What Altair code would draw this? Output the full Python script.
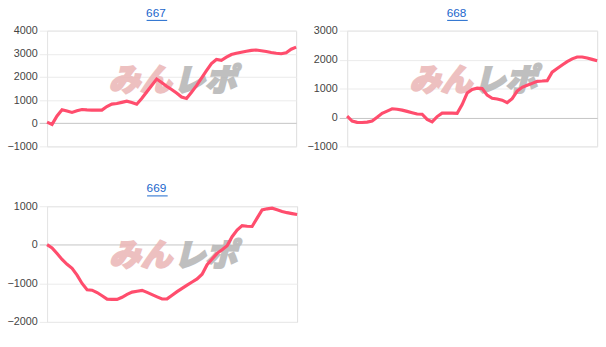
import altair as alt
import pandas as pd

names = ["667", "668", "669"]

vals_667 = [50, -50, 318, 586, 527, 467, 539, 595, 580, 570,
            570, 570, 723, 827, 855, 902, 953, 895, 822, 1067,
            1353, 1630, 1910, 1760, 1598, 1461, 1308, 1131, 1071, 1344,
            1626, 1950, 2272, 2580, 2757, 2721, 2853, 2970, 3021, 3071,
            3115, 3150, 3166, 3135, 3103, 3060, 3023, 3003, 3050, 3200,
            3290]

vals_668 = [45, -123, -170, -175, -159, -125, 5, 143, 221, 300,
            283, 254, 211, 165, 119, 111, -66, -152, 31, 151,
            155, 152, 142, 448, 843, 970, 1014, 999, 771, 665,
            640, 599, 510, 652, 912, 1044, 1112, 1180, 1250, 1259,
            1272, 1568, 1693, 1816, 1930, 2027, 2090, 2090, 2055, 2008,
            1962]

vals_669 = [5, -80, -227, -381, -507, -612, -787, -1003, -1167, -1177,
            -1238, -1322, -1408, -1417, -1417, -1362, -1287, -1227, -1204, -1181,
            -1235, -1293, -1351, -1406, -1402, -1307, -1215, -1129, -1047, -965,
            -884, -763, -517, -368, -222, -129, -25, 209, 381, 497,
            479, 475, 691, 904, 932, 949, 908, 865, 833, 808,
            785]

domains = [[-1000, 4000], [-1000, 3000], [-2000, 1000]]
ticks = [[-1000, 0, 1000, 2000, 3000, 4000],
         [-1000, 0, 1000, 2000, 3000],
         [-2000, -1000, 0, 1000]]
widths = [254, 255, 255]

LINE = "#ff4d6d"
GRID = "#ebebeb"
ZERO = "#c4c4c4"


def panel(name, vals, domain, tk, w, h=118):
    df = pd.DataFrame({"i": list(range(len(vals))), "v": vals})
    one = alt.Data(values=[{"a": 1}])
    wm1 = alt.Chart(one).mark_text(
        text="みん", font="Noto Sans CJK JP", fontSize=32, fontWeight=900,
        fontStyle="italic", color="#ebb6b6", stroke="#ebb6b6", strokeWidth=2,
        opacity=0.85, align="right", baseline="middle"
    ).encode(x=alt.value(w / 2), y=alt.value(51))
    wm2 = alt.Chart(one).mark_text(
        text="レポ", font="Noto Sans CJK JP", fontSize=32, fontWeight=900,
        fontStyle="italic", color="#b5b5b5", stroke="#b5b5b5", strokeWidth=2,
        opacity=0.85, align="left", baseline="middle"
    ).encode(x=alt.value(w / 2 + 2), y=alt.value(51))
    line = alt.Chart(df).mark_line(color=LINE, strokeWidth=3.2).encode(
        x=alt.X("i:Q", axis=None,
                scale=alt.Scale(domain=[0, len(vals) - 1], nice=False, zero=False)),
        y=alt.Y("v:Q", title=None,
                scale=alt.Scale(domain=domain, nice=False, zero=False),
                axis=alt.Axis(
                    values=tk, format="d", grid=True,
                    gridColor=alt.condition("datum.value === 0", alt.value(ZERO), alt.value(GRID)),
                    tickColor=alt.condition("datum.value === 0", alt.value(ZERO), alt.value(GRID)),
                    tickSize=8, labelPadding=2, domainColor="#e6e6e6",
                    labelFont="Liberation Sans", labelFontSize=11, labelColor="#444444",
                    minExtent=40, maxExtent=40)),
    )
    underline = alt.Chart(one).mark_rule(color="#1a66cc", strokeWidth=1).encode(
        x=alt.value(w / 2 - 26 + 0.5), x2=alt.value(w / 2 - 5 + 0.5), y=alt.value(-10.5)
    )
    return alt.layer(wm1, wm2, line, underline).properties(
        width=w, height=h,
        title=alt.TitleParams(name, fontSize=12, font="Liberation Sans",
                              fontWeight="normal", color="#1a66cc",
                              anchor="middle", dx=-16, offset=0),
    )


p1 = panel(names[0], vals_667, domains[0], ticks[0], widths[0])
p2 = panel(names[1], vals_668, domains[1], ticks[1], widths[1])
p3 = panel(names[2], vals_669, domains[2], ticks[2], widths[2])

top = alt.hconcat(p1, p2, spacing=3)
chart = alt.vconcat(top, p3, spacing=30).properties(
    padding={"left": 6, "top": 3, "right": 2, "bottom": 2}
).configure_view(stroke=None).configure(background="white")

chart.save("out.html", embed_options={"renderer": "svg", "actions": False})
